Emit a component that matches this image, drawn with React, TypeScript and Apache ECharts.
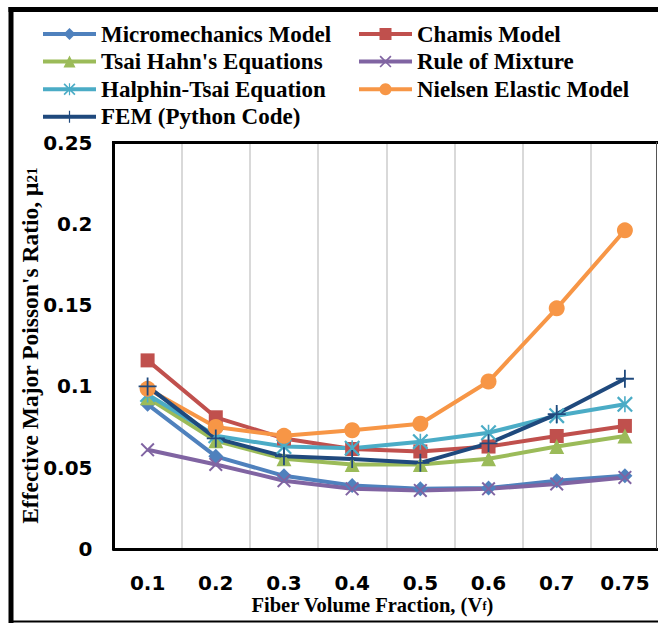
import React, { useEffect, useRef } from "react";
import * as echarts from "echarts";

const categories = ["0.1", "0.2", "0.3", "0.4", "0.5", "0.6", "0.7", "0.75"];
const yTicks = [0, 0.05, 0.1, 0.15, 0.2, 0.25];

const micromechanics = [0.089, 0.057, 0.045, 0.039, 0.037, 0.0375, 0.042, 0.045];
const chamis = [0.116, 0.081, 0.068, 0.0615, 0.06, 0.063, 0.0695, 0.0757];
const tsaiHahn = [0.093, 0.0665, 0.0555, 0.052, 0.052, 0.0555, 0.063, 0.0695];
const ruleOfMixture = [0.061, 0.052, 0.042, 0.037, 0.036, 0.037, 0.04, 0.044];
const halphinTsai = [0.095, 0.0696, 0.063, 0.062, 0.066, 0.0715, 0.082, 0.089];
const nielsen = [0.0985, 0.075, 0.0696, 0.073, 0.077, 0.103, 0.148, 0.196];
const fem = [0.1, 0.068, 0.057, 0.0554, 0.053, 0.065, 0.083, 0.1047];

const seriesNames = [
  "Micromechanics Model",
  "Chamis Model",
  "Tsai Hahn's Equations",
  "Rule of Mixture",
  "Halphin-Tsai Equation",
  "Nielsen Elastic Model",
  "FEM (Python Code)",
];
const seriesColors = ["#4F81BD", "#C0504D", "#9BBB59", "#8064A2", "#4BACC6", "#F79646", "#1F497D"];

const PLUS = "path://M9,0 H11 V9 H20 V11 H11 V20 H9 V11 H0 V9 H9 Z";
const CROSS = "path://M0,2 L2,0 L20,18 L18,20 Z M18,0 L20,2 L2,20 L0,18 Z";
const STAR = "path://M0,2 L2,0 L20,18 L18,20 Z M18,0 L20,2 L2,20 L0,18 Z M9,0 H11 V20 H9 Z";

const seriesSymbols = ["diamond", "rect", "triangle", CROSS, STAR, "circle", PLUS];
const seriesSymbolSizes = [15, 14, 15, 14, 16, 16, 18];
const seriesData = [micromechanics, chamis, tsaiHahn, ruleOfMixture, halphinTsai, nielsen, fem];

const SERIF = "'Liberation Serif', 'Times New Roman', serif";
const SANS = "'DejaVu Sans', sans-serif";

export default function App() {
  const ref = useRef<HTMLDivElement>(null);
  useEffect(() => {
    if (!ref.current) return;
    const chart = echarts.init(ref.current, null, { renderer: "svg" });
    const legendText = {
      fontFamily: SERIF,
      fontWeight: "bold",
      fontSize: 23,
      color: "#000",
      lineHeight: 24,
    };
    const legendBase = {
      orient: "vertical",
      top: 22,
      padding: 0,
      itemWidth: 53,
      itemHeight: 15,
      itemGap: 3.6,
      textStyle: legendText,
      lineStyle: { width: 4 },
    };
    chart.setOption({
      animation: false,
      backgroundColor: "#fff",
      grid: {
        left: 113.5,
        top: 142.5,
        right: -1,
        bottom: 74,
        containLabel: false,
        outerBoundsMode: "none",
      },
      legend: [
        { ...legendBase, left: 41, data: [seriesNames[0], seriesNames[2], seriesNames[4], seriesNames[6]] },
        { ...legendBase, left: 357, data: [seriesNames[1], seriesNames[3], seriesNames[5]] },
      ],
      xAxis: {
        type: "category",
        data: categories,
        boundaryGap: true,
        axisLine: { show: true, lineStyle: { color: "#000", width: 3 } },
        axisTick: { show: false },
        axisLabel: {
          margin: 24,
          fontFamily: SANS,
          fontWeight: "bold",
          fontSize: 20,
          color: "#000",
        },
        splitLine: { show: true, lineStyle: { color: "#D9D9D9", width: 2 } },
        name: "{a|Fiber Volume Fraction, (V}{sub|f}{a|)}",
        nameLocation: "middle",
        nameGap: 47,
        nameMoveOverlap: false,
        nameTextStyle: {
          padding: [0, 28, 0, 0],
          rich: {
            a: { fontFamily: SERIF, fontWeight: "bold", fontSize: 20.5, color: "#000", lineHeight: 20, padding: [0, 0, 3, 0] },
            sub: { fontFamily: SERIF, fontWeight: "bold", fontSize: 12, color: "#000", lineHeight: 12 },
          },
        },
      },
      yAxis: {
        type: "value",
        min: yTicks[0],
        max: yTicks[yTicks.length - 1],
        interval: yTicks[1] - yTicks[0],
        axisLine: { show: true, lineStyle: { color: "#000", width: 3 } },
        axisTick: { show: false },
        splitLine: { show: false },
        axisLabel: {
          margin: 21,
          fontFamily: SANS,
          fontWeight: "bold",
          fontSize: 20,
          color: "#000",
        },
        name: "{a|Effective Major Poisson's Ratio, μ}{sub|21}",
        nameLocation: "middle",
        nameGap: 70,
        nameMoveOverlap: false,
        nameTextStyle: {
          rich: {
            a: { fontFamily: SERIF, fontWeight: "bold", fontSize: 23.5, color: "#000", lineHeight: 24, padding: [0, 0, 4, 0] },
            sub: { fontFamily: SERIF, fontWeight: "bold", fontSize: 15, color: "#000", lineHeight: 15 },
          },
        },
      },
      graphic: [
        { type: "line", shape: { x1: 112, y1: 142.5, x2: 658, y2: 142.5 }, style: { stroke: "#000", lineWidth: 3 }, z: 100 },
        { type: "line", shape: { x1: 656.5, y1: 142, x2: 656.5, y2: 549 }, style: { stroke: "#555", lineWidth: 1 }, z: 100 },
        { type: "line", shape: { x1: 11, y1: 7, x2: 11, y2: 623 }, style: { stroke: "#000", lineWidth: 5 } },
        { type: "line", shape: { x1: 8.5, y1: 9.5, x2: 658, y2: 9.5 }, style: { stroke: "#000", lineWidth: 5 } },
        { type: "line", shape: { x1: 11, y1: 621.5, x2: 658, y2: 621.5 }, style: { stroke: "#000", lineWidth: 2 } },
      ],
      series: seriesNames.map((name, i) => ({
        name,
        type: "line",
        data: seriesData[i],
        symbol: seriesSymbols[i],
        symbolSize: seriesSymbolSizes[i],
        showAllSymbol: true,
        lineStyle: { color: seriesColors[i], width: 4 },
        itemStyle: { color: seriesColors[i] },
        emphasis: { disabled: true },
      })),
    });
    return () => chart.dispose();
  }, []);
  return (
    <div
      ref={ref}
      style={{ position: "absolute", left: 0, top: 0, width: 658, height: 623 }}
    />
  );
}
